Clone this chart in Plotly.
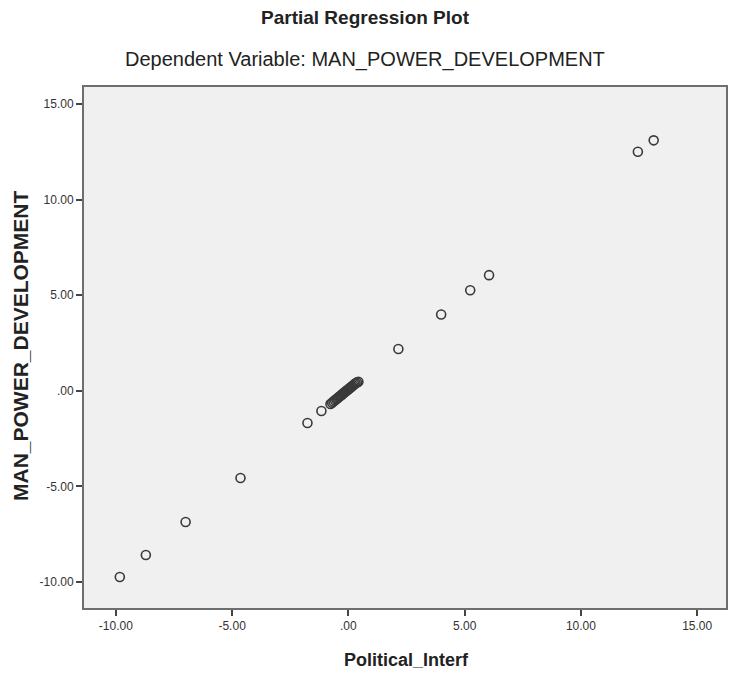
import plotly.graph_objects as go

# Partial regression residuals
political_interf = [-9.83, -8.71, -7.00, -4.64, -1.76, -1.16,
                    -0.77, -0.70, -0.64, -0.58, -0.52, -0.47, -0.42, -0.37, -0.32,
                    -0.28, -0.24, -0.20, -0.16, -0.12, -0.08, -0.04, 0.00, 0.04,
                    0.08, 0.12, 0.16, 0.21, 0.26, 0.31, 0.37, 0.43,
                    2.15, 3.99, 5.24, 6.05, 12.45, 13.13]
man_power_dev = [-9.74, -8.59, -6.86, -4.56, -1.68, -1.06,
                 -0.69, -0.62, -0.56, -0.50, -0.44, -0.39, -0.34, -0.29, -0.24,
                 -0.20, -0.16, -0.12, -0.08, -0.04, 0.00, 0.04, 0.08, 0.12,
                 0.16, 0.20, 0.24, 0.29, 0.34, 0.39, 0.44, 0.47,
                 2.19, 3.99, 5.26, 6.05, 12.50, 13.10]

tick_vals = [-10, -5, 0, 5, 10, 15]
tick_text = ["-10.00", "-5.00", ".00", "5.00", "10.00", "15.00"]

title_text = "Partial Regression Plot"
subtitle_text = "Dependent Variable: MAN_POWER_DEVELOPMENT"
x_title = "Political_Interf"
y_title = "MAN_POWER_DEVELOPMENT"

FONT = "Liberation Sans Narrow, Arial Narrow, Liberation Sans, Arial, sans-serif"

fig = go.Figure()
fig.add_trace(go.Scatter(
    x=political_interf, y=man_power_dev, mode="markers",
    marker=dict(symbol="circle-open", size=9, color="#3a3a3a", line=dict(width=1.6)),
    showlegend=False, hoverinfo="x+y"))

axis_common = dict(
    tickmode="array", tickvals=tick_vals, ticktext=tick_text,
    ticks="outside", ticklen=6, tickwidth=1.5, tickcolor="#444",
    showgrid=False, zeroline=False,
    showline=True, linecolor="#6e6e6e", linewidth=2, mirror=True,
    tickfont=dict(family=FONT, size=12, color="#333"),
)

fig.update_layout(
    width=734, height=677,
    margin=dict(l=84, r=6, t=87, b=69),
    paper_bgcolor="white", plot_bgcolor="#f0f0f0",
    xaxis=dict(range=[-11.37, 16.24], **axis_common),
    yaxis=dict(range=[-11.36, 15.89], **axis_common),
    annotations=[
        dict(text="<b>" + title_text + "</b>", xref="paper", yref="paper",
             x=0.438, y=1.134, xanchor="center", yanchor="middle", showarrow=False,
             font=dict(family=FONT, size=19, color="#222")),
        dict(text=subtitle_text, xref="paper", yref="paper",
             x=0.438, y=1.052, xanchor="center", yanchor="middle", showarrow=False,
             font=dict(family=FONT, size=20, color="#222")),
        dict(text="<b>" + x_title + "</b>", xref="paper", yref="paper",
             x=0.503, y=-0.1, xanchor="center", yanchor="middle", showarrow=False,
             font=dict(family=FONT, size=18, color="#222")),
        dict(text="<b>" + y_title + "</b>", xref="paper", yref="paper",
             x=-0.098, y=0.503, xanchor="center", yanchor="middle", showarrow=False,
             textangle=-90, font=dict(family=FONT, size=21, color="#222")),
    ],
)

fig.write_html("out.html", config={"displayModeBar": False},
               post_script="document.body.style.margin='0';")
